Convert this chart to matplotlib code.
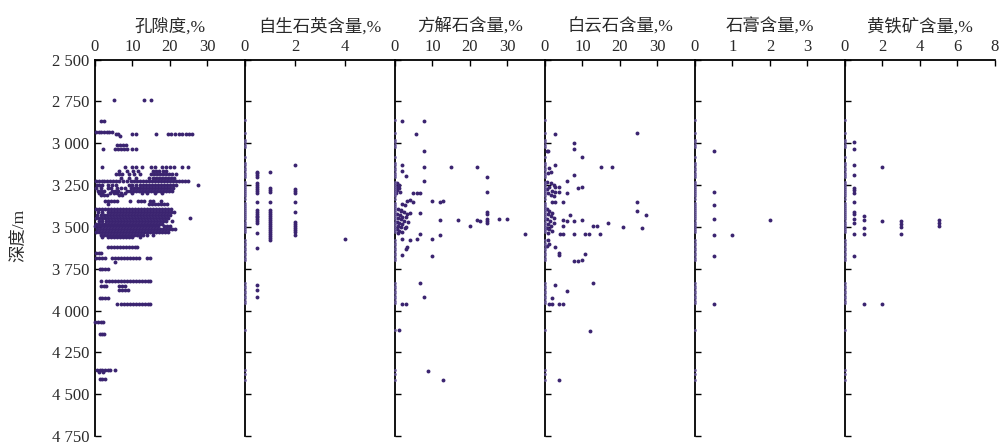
import matplotlib
matplotlib.use("Agg")
import matplotlib.pyplot as plt
from matplotlib.ticker import FuncFormatter

plt.rcParams['font.family'] = ['Liberation Serif', 'Noto Sans CJK SC']

# porosity rows: depth, porosity values
porosity_rows = [
    (2740, [5, 13, 15]),
    (2865, [1.5, 2.3]),
    (2935, [0.3, 1, 1.7, 2.4, 3.1, 3.8, 4.5]),
    (2945, [5.6, 6.2, 9.8, 11, 16.4, 19.6, 20.4, 21.3, 22.5, 23.3, 24.2, 25.1, 26]),
    (2955, [6.6]),
    (3010, [5.8, 6.6, 7.4, 8.2]),
    (3035, [2.2, 5.4, 6.2, 7, 7.8, 8.6, 10, 11]),
    (3140, [1.8, 8, 10, 11, 12.5, 15, 16, 18, 19, 20, 21, 23.2, 24.8]),
    (3165, [6.5, 8.5, 10.2, 11.4, 15.5, 16.3, 17.2, 18.1, 19]),
    (3185, [5.5, 6.4, 7.3, 9, 10.5, 12, 15, 15.8, 16.6, 17.4, 18.2, 19, 19.8, 20.6, 21.5]),
    (3205, [7, 9, 11, 14.5, 15.4, 16.2, 17, 17.8, 18.6, 19.4, 20.2, 21]),
    (3228, [0.3, 1, 1.8, 2.5, 3.2, 4, 4.8, 5.5, 6.5, 7.5, 8.5, 9.5, 10.5, 11.3, 12, 12.8, 13.6, 14.4,
            15.2, 16, 16.8, 17.6, 18.4, 19.2, 20, 20.8, 21.6, 22.4, 23.2, 24, 24.8]),
    (3250, [0.5, 1.2, 2, 3.5, 4.5, 5.5, 9, 10, 11, 12, 12.8, 13.6, 14.4, 15.2, 16, 16.8, 17.6, 18.4,
            19.2, 20, 20.8, 21.6, 27.5]),
    (3268, [0.3, 1.5, 3.5, 4.3, 6, 7, 8, 9.5, 10.5, 11.3, 12.1, 12.9, 13.7, 14.5, 15.3, 16.1, 16.9,
            17.7, 18.5, 19.3, 20.1, 20.9]),
    (3285, [0.8, 1.6, 2.4, 4.5, 5.3, 6.1, 8.5, 9.3, 10.1, 10.9, 11.7, 12.5, 13.3, 14.1, 14.9, 15.7,
            16.5, 17.3, 18.1, 18.9, 19.7, 20.5]),
    (3300, [1.2, 2, 4, 5, 6, 7, 8, 10, 12.5, 14, 16, 18]),
    (3312, [1.5, 2.3, 3.1, 6.5, 7.3]),
    (3345, [2.6, 3.4, 4.2, 5, 5.8, 9.3, 11.5, 12.3, 13.1, 14.6, 15.5, 17.5]),
    (3365, [3.5, 14.5, 15.3, 16.1, 16.9, 17.7, 18.5, 19.3]),
    (3395, [0.3, 1.1, 1.9, 2.7, 3.5, 4.3, 5.1, 5.9, 6.7, 7.5, 8.3, 9.1, 9.9, 10.7, 11.5, 12.3, 13.1,
            13.9, 14.7, 15.5, 16.3, 17.1, 17.9, 18.7, 19.5, 20.3]),
    (3412, [0.8, 2, 3.5, 4.3, 5.1, 5.9, 6.7, 7.5, 8.3, 9.1, 9.9, 10.7, 11.5, 12.3, 13.1, 13.9, 14.7,
            15.5, 16.3, 17.1, 17.9, 18.7, 19.5, 20.3, 21.2]),
    (3430, [0.5, 1.5, 2.5, 3.3, 4.1, 4.9, 5.7, 6.5, 7.3, 8.1, 8.9, 9.7, 10.5, 11.3, 12.1, 12.9, 13.7,
            14.5, 15.3, 16.1, 16.9, 17.7, 18.5, 19.3, 20.1]),
    (3447, [0.3, 1.1, 1.9, 2.7, 3.5, 4.3, 5.1, 5.9, 6.7, 7.5, 8.3, 9.1, 9.9, 10.7, 11.5, 12.3, 13.1,
            13.9, 14.7, 15.5, 16.3, 17.1, 17.9, 18.7, 19.5, 25.3]),
    (3463, [1, 2, 3, 3.8, 4.6, 5.4, 6.2, 7, 7.8, 8.6, 9.4, 10.2, 11, 11.8, 12.6, 13.4, 14.2, 15, 15.8,
            16.6, 17.4, 18.2, 19, 20.5]),
    (3480, [0.3, 1.1, 1.9, 2.7, 3.5, 4.3, 5.1, 5.9, 6.7, 7.5, 8.3, 9.1, 9.9, 10.7, 11.5, 12.3, 13.1,
            13.9, 14.7, 15.5, 16.3, 17.1, 17.9]),
    (3497, [0, 0.8, 1.6, 2.4, 3.2, 4, 4.8, 5.6, 6.4, 7.2, 8, 8.8, 9.6, 10.4, 11.2, 12, 12.8, 13.6,
            14.4, 15.2, 16, 16.8, 18.5, 19.3, 20.1]),
    (3513, [0.5, 1.3, 2.1, 2.9, 3.7, 4.5, 5.3, 6.1, 6.9, 7.7, 8.5, 9.3, 10.1, 10.9, 11.7, 12.5, 13.3,
            14.1, 14.9, 15.7, 16.5, 17.3, 18.1, 18.9, 19.7, 20.5, 21.3]),
    (3530, [0.3, 1.1, 1.9, 2.7, 3.5, 4.3, 5.1, 5.9, 6.7, 7.5, 8.3, 9.1, 9.9, 10.7, 11.5, 12.3, 13.1,
            13.9, 14.7, 15.5, 16.3, 17.1, 17.9, 18.7, 19.5]),
    (3547, [1.5, 2.3, 3.1, 3.9, 4.7, 5.5, 6.3, 7.1, 7.9, 8.7, 9.5, 10.3, 11.1, 11.9, 12.7, 14, 15.5]),
    (3562, [2, 3.5, 4.3, 5.1, 5.9, 6.7, 7.5, 8.3, 9.1, 10, 12]),
    (3617, [3.5, 4.3, 5.1, 5.9, 6.7, 7.5, 8.3, 9.1, 9.9, 10.7, 11.3]),
    (3655, [0.3, 1, 1.7]),
    (3685, [0.3, 1, 1.8, 2.6, 4.5, 5.3, 6.1, 6.9, 7.7, 8.5, 9.3, 10.1, 10.9, 11.7, 14, 14.7]),
    (3712, [5.3]),
    (3750, [1.3, 2, 2.7, 3.4]),
    (3826, [1.5, 3, 3.8, 4.6, 5.4, 6.2, 7, 7.8, 8.6, 9.4, 10.2, 11, 11.8, 12.6, 13.4, 14.2, 14.8]),
    (3850, [1.5, 2.3, 3, 6.5, 7.2, 8]),
    (3876, [6.5, 7.3, 8.1, 8.9]),
    (3922, [1.3, 2, 2.7, 3.4]),
    (3960, [5.8, 7, 7.8, 8.6, 9.4, 10.2, 11, 11.8, 12.6, 13.4, 14.2, 14.8]),
    (4066, [0.1, 0.8, 1.5, 2.2]),
    (4142, [1.3, 2, 2.5]),
    (4355, [0.6, 1.3, 2, 2.7, 3.4, 4, 5.3]),
    (4365, [1.2, 2.2]),
    (4409, [1.3, 2, 2.7]),
]

# thin-section samples with zero content (plotted on the axis line of each mineral panel)
zero_depths = [2860, 2940, 2980, 2995, 3010, 3020, 3080, 3115, 3130, 3145, 3160, 3175, 3190, 3200,
               3230, 3242, 3255, 3268, 3280, 3292, 3305, 3318, 3330, 3355, 3368, 3380, 3392, 3405,
               3418, 3430, 3442, 3455, 3468, 3480, 3492, 3505, 3518, 3530, 3580, 3595, 3610, 3625,
               3640, 3655, 3670, 3685, 3697, 3835, 3850, 3865, 3880, 3895, 3910, 3925, 3940, 3954,
               4116, 4355, 4380, 4415]

quartz_depth = [3170, 3180, 3190, 3200, 3236, 3248, 3260, 3272, 3284, 3296, 3348, 3397, 3408, 3420,
                3432, 3443, 3455, 3466, 3475, 3535, 3625, 3846, 3876, 3918,
                3172, 3266, 3278, 3290, 3348, 3397, 3410, 3422, 3434, 3446, 3458, 3470, 3482, 3494,
                3506, 3518, 3530, 3542, 3554, 3566, 3577,
                3132, 3272, 3284, 3296, 3348, 3408, 3468, 3480, 3492, 3504, 3516, 3530, 3547,
                3575]
quartz_value = [0.5] * 24 + [1] * 21 + [2] * 13 + [4]

calcite_depth = [2865, 2865, 2945, 3045, 3144, 3144, 3144, 3128, 3164, 3194, 3224, 3204, 3292, 3296,
                 3296, 3296, 3344, 3340, 3350, 3344, 3348, 3345, 3365, 3368, 3415, 3400, 3410, 3420,
                 3415, 3410, 3425, 3458, 3458, 3458, 3465, 3452, 3465, 3475, 3455, 3450, 3497, 3543,
                 3543, 3547, 3571, 3571, 3577, 3571, 3617, 3630, 3667, 3673, 3832, 3918, 3960, 3960,
                 4118, 4359, 4415,
                 3240, 3250, 3260, 3270, 3280, 3290, 3300, 3395, 3405, 3420, 3430, 3440, 3448, 3455,
                 3462, 3470, 3478, 3485, 3492, 3500, 3508, 3515, 3522, 3530, 3538, 3440, 3470, 3500]
calcite_value = [2, 7.8, 5.6, 7.8, 7.8, 14.9, 22, 1.8, 1.8, 2.9, 7.8, 24.6, 24.6, 4.9,
                 5.8, 6.8, 3.1, 4, 4.9, 10, 12, 12.9, 1.8, 2.7, 6.8, 1.5, 2.5, 3.1,
                 4, 24.6, 24.6, 12, 16.9, 21.8, 22.7, 24.6, 24.6, 24.6, 27.8, 29.8, 20, 34.7,
                 6.8, 12, 10, 5.8, 4, 1.8, 3.1, 2.9, 1.9, 10, 6.8, 7.8, 1.8, 2.9,
                 1.1, 8.7, 12.7,
                 0.5, 1, 0.5, 1.2, 0.6, 1.3, 0.4, 0.8, 1.5, 0.5, 1.3, 2, 0.8, 1.6,
                 2.4, 0.5, 1.2, 2, 0.7, 1.5, 2.6, 0.5, 1.2, 2, 0.8, 3, 3.5, 3]

dolomite_depth = [2945, 2939, 2998, 3032, 3048, 3084, 3128, 3140, 3140, 3188, 3224, 3266, 3262, 3260,
                  3264, 3290, 3294, 3296, 3348, 3348, 3352, 3348, 3402, 3427, 3427, 3458, 3462, 3462,
                  3458, 3497, 3497, 3476, 3503, 3509, 3497, 3545, 3545, 3545, 3545, 3543, 3543, 3577,
                  3617, 3655, 3668, 3701, 3701, 3697, 3661, 3832, 3848, 3880, 3922, 3960, 3960, 3960,
                  3960, 4122, 4415,
                  3045, 3150, 3170, 3180, 3230, 3240, 3250, 3260, 3275, 3285, 3300, 3312, 3318, 3395,
                  3405, 3415, 3425, 3435, 3445, 3455, 3465, 3475, 3485, 3495, 3505, 3515, 3525, 3535,
                  3600, 3615]
dolomite_value = [2.8, 24.6, 7.8, 7.8, 0.9, 10, 2.8, 14.9, 17.8, 7.8, 5.8, 8.9, 10, 2.8,
                  3.8, 2.8, 3.8, 5.8, 4.9, 1.8, 2.7, 24.6, 24.6, 27, 6.8, 4.9, 5.8, 7.8,
                  10, 12.9, 13.8, 16.9, 20.9, 26, 4.9, 4, 4.9, 7.8, 10.7, 11.7, 14.8, 0.9,
                  2.8, 3.8, 3.8, 7.8, 8.9, 10, 10.7, 12.7, 2.8, 5.8, 1.8, 1.1, 1.8, 3.8,
                  4.9, 12, 3.8,
                  0.5, 1, 1.5, 0.8, 0.5, 1.5, 2.5, 1, 0.6, 1.8, 0.8, 1.5, 2.5, 0.5,
                  1.2, 2, 0.8, 1.5, 2.5, 0.6, 1.3, 2.4, 0.8, 1.6, 0.5, 1.2, 2, 0.8,
                  1, 0.5]

gypsum_depth = [3049, 3294, 3368, 3453, 3461, 3547, 3547, 3673, 3960]
gypsum_value = [0.5, 0.5, 0.5, 0.5, 2, 0.5, 1, 0.5, 0.5]

pyrite_depth = [2995, 3032, 3128, 3144, 3188, 3266, 3281, 3296, 3348, 3408, 3420, 3450, 3476, 3437,
                3457, 3463, 3467, 3483, 3499, 3543, 3461, 3479, 3497, 3507, 3543, 3543, 3671, 3960,
                3960]
pyrite_value = [0.5, 0.5, 0.5, 2, 0.5, 0.5, 0.5, 0.5, 0.5, 0.5, 0.5, 0.5, 0.5, 1,
                1, 2, 3, 3, 3, 3, 5, 5, 5, 1, 1, 0.5, 0.5, 1,
                2]

titles = ['孔隙度,%', '自生石英含量,%', '方解石含量,%', '白云石含量,%', '石膏含量,%', '黄铁矿含量,%']
x_limits = [40, 6, 40, 40, 4, 8]
x_ticks = [[0, 10, 20, 30], [0, 2, 4], [0, 10, 20, 30], [0, 10, 20, 30], [0, 1, 2, 3], [0, 2, 4, 6, 8]]
y_ticks = [2500, 2750, 3000, 3250, 3500, 3750, 4000, 4250, 4500, 4750]

dot_color = '#3b2470'
zero_color = '#6f5ea3'
text_color = '#2a2a2a'


def main():
    fig = plt.figure(figsize=(10.02, 4.45), dpi=100)
    axes = fig.subplots(1, 6, sharey=True)
    fig.subplots_adjust(left=0.0948, right=0.993, top=0.866, bottom=0.02, wspace=0)

    por_d, por_v = [], []
    for d, vals in porosity_rows:
        por_d += [d] * len(vals)
        por_v += vals

    series = [
        (por_v, por_d),
        (quartz_value, quartz_depth),
        (calcite_value, calcite_depth),
        (dolomite_value, dolomite_depth),
        (gypsum_value, gypsum_depth),
        (pyrite_value, pyrite_depth),
    ]

    for i, ax in enumerate(axes):
        if i > 0:
            ax.plot([0] * len(zero_depths), zero_depths, 'o', color=zero_color, ms=2.2,
                    mew=0, alpha=0.75, clip_on=False, zorder=4)
        xv, yv = series[i]
        ax.plot(xv, yv, 'o', color=dot_color, ms=2.8, mew=0, clip_on=False, zorder=3)

        ax.set_xlim(0, x_limits[i])
        ax.set_ylim(4750, 2500)
        ax.set_xticks(x_ticks[i])
        ax.set_yticks(y_ticks)
        ax.xaxis.tick_top()
        ax.spines['right'].set_visible(False)
        ax.spines['bottom'].set_visible(False)
        ax.spines['left'].set_linewidth(1.3)
        ax.spines['top'].set_linewidth(1.3)
        ax.tick_params(axis='x', direction='in', length=4, width=1, labelsize=12, pad=3,
                       labelcolor=text_color)
        ax.tick_params(axis='y', direction='in', length=4, width=1, labelsize=12, pad=4,
                       labelcolor=text_color)
        ax.set_title(titles[i], fontsize=12.5, pad=20, color=text_color)
        if i > 0:
            ax.tick_params(axis='y', labelleft=False)

    axes[0].yaxis.set_major_formatter(FuncFormatter(lambda v, p: f"{int(v):,}".replace(",", " ")))
    fig.text(0.019, 0.47, '深度/m', rotation=90, ha='center', va='center', fontsize=12.5,
             color=text_color)

    fig.savefig('out.png', dpi=100)


if __name__ == '__main__':
    main()
